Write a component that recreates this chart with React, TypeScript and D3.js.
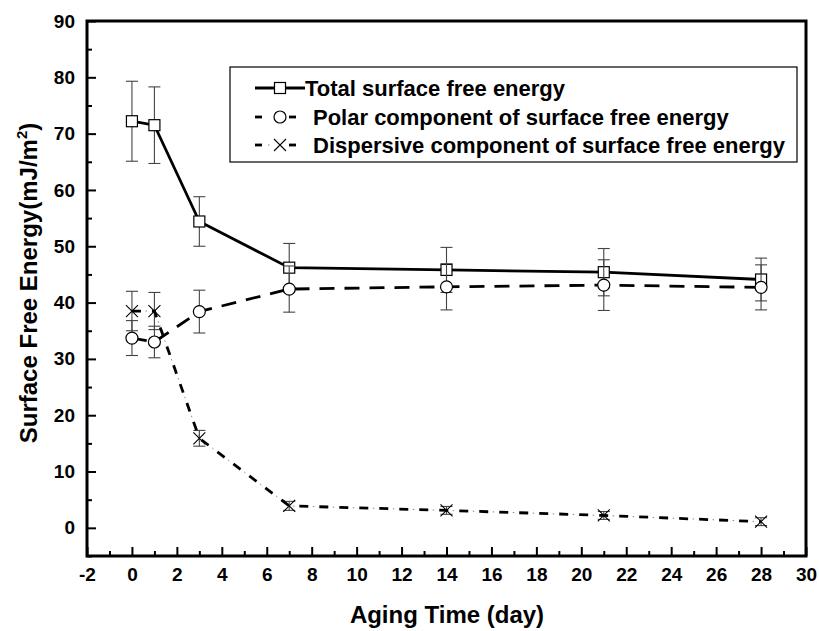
import { useEffect, useRef } from "react";
import * as d3 from "d3";

// aging time (days)
const days = [0, 1, 3, 7, 14, 21, 28];

// surface free energy values (mJ/m2) and error bars
const totalSFE = [72.2, 71.5, 54.4, 46.2, 45.8, 45.4, 44.1];
const totalErr = [7.1, 6.8, 4.4, 4.3, 4.0, 4.2, 3.8];
const polarSFE = [33.7, 33.0, 38.4, 42.4, 42.8, 43.1, 42.7];
const polarErr = [3.1, 2.8, 3.8, 4.1, 4.1, 4.5, 4.0];
const dispSFE = [38.5, 38.5, 15.9, 3.9, 3.1, 2.2, 1.1];
const dispErr = [3.5, 3.3, 1.4, 0.8, 0.7, 0.7, 0.7];

const xMajorTicks = d3.range(-2, 31, 2);
const xMinorTicks = d3.range(-1, 30, 2);
const yMajorTicks = d3.range(0, 91, 10);
const yMinorTicks = d3.range(-5, 90, 10);

const legendLabels = [
  "Total surface free energy",
  "Polar component of surface free energy",
  "Dispersive component of surface free energy",
];

const FONT = "'Liberation Sans', Arial, Helvetica, sans-serif";

export default function App() {
  const ref = useRef<SVGSVGElement>(null);

  useEffect(() => {
    const width = 819;
    const height = 631;
    const margin = { top: 21, right: 13, bottom: 75, left: 87 };

    const svg = d3.select(ref.current).attr("width", width).attr("height", height);
    svg.selectAll("*").remove();

    const x = d3
      .scaleLinear()
      .domain([-2, 30])
      .range([margin.left, width - margin.right]);
    const y = d3
      .scaleLinear()
      .domain([-5, 90])
      .range([height - margin.bottom, margin.top]);

    const styleAxis = (g: any) => {
      g.attr("font-family", FONT).attr("font-size", 19).attr("font-weight", "bold");
      g.select(".domain").remove();
      g.selectAll("line").attr("stroke", "#000").attr("stroke-width", 2);
      g.selectAll("text").attr("fill", "#000");
    };

    // bottom axis, ticks pointing inward
    const gx = svg
      .append("g")
      .attr("transform", `translate(0,${y.range()[0]})`)
      .call(
        d3
          .axisBottom(x)
          .tickValues(xMajorTicks)
          .tickSize(-9)
          .tickPadding(12)
          .tickFormat((d: any) => String(d))
      );
    styleAxis(gx);

    const gxMinor = svg
      .append("g")
      .attr("transform", `translate(0,${y.range()[0]})`)
      .call(d3.axisBottom(x).tickValues(xMinorTicks).tickSize(-5).tickFormat(() => ""));
    styleAxis(gxMinor);

    // left axis
    const gy = svg
      .append("g")
      .attr("transform", `translate(${x.range()[0]},0)`)
      .call(
        d3
          .axisLeft(y)
          .tickValues(yMajorTicks)
          .tickSize(-9)
          .tickPadding(12)
          .tickFormat((d: any) => String(d))
      );
    styleAxis(gy);

    const gyMinor = svg
      .append("g")
      .attr("transform", `translate(${x.range()[0]},0)`)
      .call(d3.axisLeft(y).tickValues(yMinorTicks).tickSize(-5).tickFormat(() => ""));
    styleAxis(gyMinor);

    // frame
    svg
      .append("rect")
      .attr("x", x.range()[0])
      .attr("y", y.range()[1])
      .attr("width", x.range()[1] - x.range()[0])
      .attr("height", y.range()[0] - y.range()[1])
      .attr("fill", "none")
      .attr("stroke", "#000")
      .attr("stroke-width", 3);

    // axis titles
    svg
      .append("text")
      .attr("x", 447)
      .attr("y", 623)
      .attr("text-anchor", "middle")
      .attr("font-family", FONT)
      .attr("font-size", 24)
      .attr("font-weight", "bold")
      .text("Aging Time (day)");

    const yTitle = svg
      .append("text")
      .attr("transform", "rotate(-90)")
      .attr("x", -283)
      .attr("y", 37)
      .attr("text-anchor", "middle")
      .attr("font-family", FONT)
      .attr("font-size", 24)
      .attr("font-weight", "bold");
    yTitle.append("tspan").text("Surface Free Energy(mJ/m");
    yTitle.append("tspan").attr("dy", -10).attr("font-size", 15).text("2");
    yTitle.append("tspan").attr("dy", 10).text(")");

    const series = [
      { values: totalSFE, errors: totalErr, dash: null, dots: false, marker: "square" },
      { values: polarSFE, errors: polarErr, dash: "15,10", dots: false, marker: "circle" },
      { values: dispSFE, errors: dispErr, dash: "9,11", dots: true, marker: "cross" },
    ];

    const drawMarker = (g: any, kind: string, cx: number, cy: number) => {
      if (kind === "square") {
        g.append("rect")
          .attr("x", cx - 5.5)
          .attr("y", cy - 5.5)
          .attr("width", 11)
          .attr("height", 11)
          .attr("fill", "#fff")
          .attr("stroke", "#000")
          .attr("stroke-width", 1.2);
      } else if (kind === "circle") {
        g.append("circle")
          .attr("cx", cx)
          .attr("cy", cy)
          .attr("r", 6)
          .attr("fill", "#fff")
          .attr("stroke", "#000")
          .attr("stroke-width", 1.2);
      } else {
        const s = 6;
        g.append("path")
          .attr("d", `M${cx - s},${cy - s}L${cx + s},${cy + s}M${cx - s},${cy + s}L${cx + s},${cy - s}`)
          .attr("stroke", "#000")
          .attr("stroke-width", 1.1)
          .attr("fill", "none");
      }
    };

    series.forEach((s) => {
      const g = svg.append("g");
      const pts = days.map((d, i) => [d, s.values[i], s.errors[i]]);

      // error bars
      pts.forEach(([d, v, e]) => {
        const cx = x(d);
        g.append("line")
          .attr("x1", cx)
          .attr("x2", cx)
          .attr("y1", y(v - e))
          .attr("y2", y(v + e))
          .attr("stroke", "#444")
          .attr("stroke-width", 1.1);
        [v - e, v + e].forEach((c) => {
          g.append("line")
            .attr("x1", cx - 6)
            .attr("x2", cx + 6)
            .attr("y1", y(c))
            .attr("y2", y(c))
            .attr("stroke", "#444")
            .attr("stroke-width", 1.1);
        });
      });

      const line = d3
        .line<number[]>()
        .x((p) => x(p[0]))
        .y((p) => y(p[1]));

      g.append("path")
        .datum(pts)
        .attr("d", line)
        .attr("fill", "none")
        .attr("stroke", "#000")
        .attr("stroke-width", 2.8)
        .attr("stroke-dasharray", s.dash);

      if (s.dots) {
        // faint dots of the dash-dot pattern
        g.append("path")
          .datum(pts)
          .attr("d", line)
          .attr("fill", "none")
          .attr("stroke", "#888")
          .attr("stroke-width", 1)
          .attr("stroke-dasharray", "1.5,18.5")
          .attr("stroke-dashoffset", -13.5);
      }

      pts.forEach(([d, v]) => drawMarker(g, s.marker, x(d), y(v)));
    });

    // legend
    const legend = svg.append("g");
    legend
      .append("rect")
      .attr("x", 230)
      .attr("y", 67)
      .attr("width", 567)
      .attr("height", 95)
      .attr("fill", "#fff")
      .attr("stroke", "#000")
      .attr("stroke-width", 1.2);

    const rowY = [88, 117, 145];
    series.forEach((s, i) => {
      const ry = rowY[i];
      if (i === 0) {
        legend
          .append("line")
          .attr("x1", 255)
          .attr("x2", 305)
          .attr("y1", ry)
          .attr("y2", ry)
          .attr("stroke", "#000")
          .attr("stroke-width", 2.8);
      } else {
        [
          [255, 262],
          [289, 296],
        ].forEach(([a, b]) => {
          legend
            .append("line")
            .attr("x1", a)
            .attr("x2", b)
            .attr("y1", ry)
            .attr("y2", ry)
            .attr("stroke", "#000")
            .attr("stroke-width", 2.8);
        });
        if (s.dots) {
          [268, 292 + 0].slice(0, 1).forEach((dx) => {
            legend
              .append("line")
              .attr("x1", dx)
              .attr("x2", dx + 1.5)
              .attr("y1", ry)
              .attr("y2", ry)
              .attr("stroke", "#888")
              .attr("stroke-width", 1);
          });
        }
      }
      drawMarker(legend, s.marker, 280, ry);
      legend
        .append("text")
        .attr("x", i === 0 ? 305 : 313)
        .attr("y", ry + 8)
        .attr("font-family", FONT)
        .attr("font-size", 22)
        .attr("font-weight", "bold")
        .text(legendLabels[i]);
    });
  }, []);

  return (
    <div>
      <svg ref={ref} style={{ position: "absolute", left: 0, top: 0, display: "block" }} />
    </div>
  );
}
